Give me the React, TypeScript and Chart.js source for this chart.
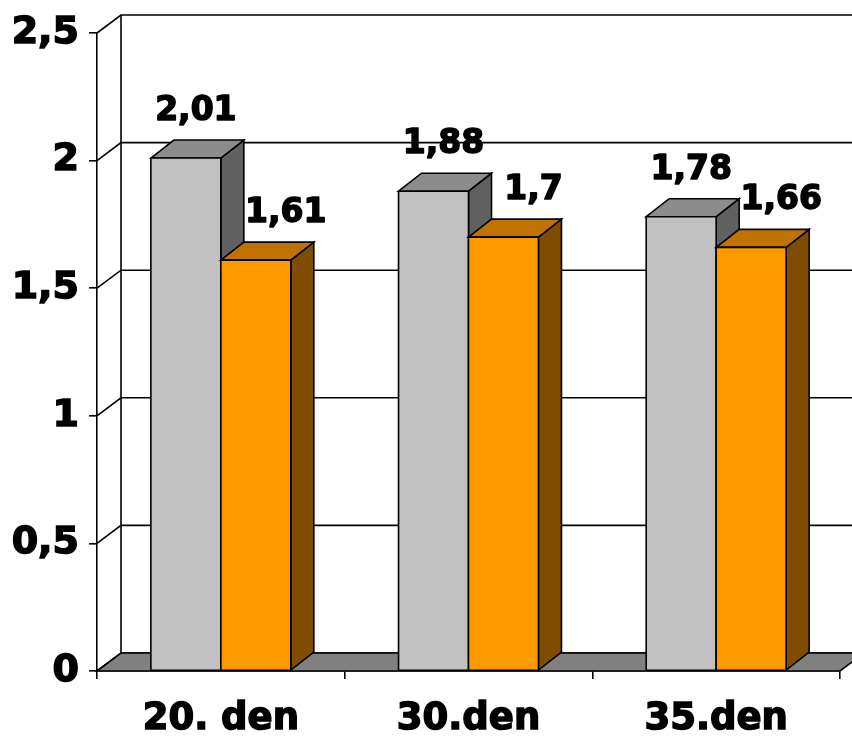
import React, { useEffect, useRef } from "react";
import { Chart, registerables } from "chart.js";

Chart.register(...registerables);

// Data
const categories = ["20. den", "30.den", "35.den"];
const seriesA = [2.01, 1.88, 1.78];
const seriesB = [1.61, 1.7, 1.66];
const yTicks = [0, 0.5, 1, 1.5, 2, 2.5];

// Styling
const FONT = "'DejaVu Sans', 'Liberation Sans', Arial, sans-serif";
const WALL_DX = 24;
const WALL_DY = 18;
const BAR_DX = 23;
const BAR_DY = 18;
const faces = [
  { front: "#c0c0c0", top: "#8c8c8c", side: "#606060", labelShift: 10 },
  { front: "#ff9900", top: "#c07300", side: "#7f4c00", labelShift: 30 },
];

const fmt = (v: number) => String(v).replace(".", ",");

const poly = (ctx: CanvasRenderingContext2D, pts: number[][], fill: string | null) => {
  ctx.beginPath();
  ctx.moveTo(pts[0][0], pts[0][1]);
  for (let i = 1; i < pts.length; i++) ctx.lineTo(pts[i][0], pts[i][1]);
  ctx.closePath();
  if (fill) {
    ctx.fillStyle = fill;
    ctx.fill();
  }
  ctx.stroke();
};

const box3d = {
  id: "box3d",
  beforeDatasetsDraw(chart: any) {
    const { ctx, chartArea, scales } = chart;
    const { left, right, bottom } = chartArea;
    const y = scales.y;
    ctx.save();
    ctx.strokeStyle = "#000";
    ctx.lineWidth = 1.6;
    // back wall grid lines and side wall diagonals
    yTicks.forEach((t) => {
      const py = y.getPixelForValue(t);
      ctx.beginPath();
      ctx.moveTo(left, py);
      ctx.lineTo(left + WALL_DX, py - WALL_DY);
      ctx.lineTo(chart.width + 40, py - WALL_DY);
      ctx.stroke();
    });
    // back wall left edge
    ctx.beginPath();
    ctx.moveTo(left + WALL_DX, y.getPixelForValue(yTicks[yTicks.length - 1]) - WALL_DY);
    ctx.lineTo(left + WALL_DX, bottom - WALL_DY);
    ctx.stroke();
    // floor
    poly(
      ctx,
      [
        [left, bottom],
        [right, bottom],
        [right + WALL_DX, bottom - WALL_DY],
        [left + WALL_DX, bottom - WALL_DY],
      ],
      "#808080"
    );
    ctx.restore();
  },
  beforeDatasetDraw() {
    return false;
  },
  afterDatasetsDraw(chart: any) {
    const { ctx } = chart;
    const metas = chart.data.datasets.map((_: any, i: number) => chart.getDatasetMeta(i));
    ctx.save();
    ctx.strokeStyle = "#000";
    ctx.lineWidth = 1.6;
    ctx.lineJoin = "miter";
    const labels: any[] = [];
    categories.forEach((_, i) => {
      metas.forEach((meta: any, d: number) => {
        const bar = meta.data[i];
        const { x, y, base, width } = bar.getProps(["x", "y", "base", "width"], true);
        const l = x - width / 2;
        const r = x + width / 2;
        const f = faces[d];
        poly(ctx, [[r, y], [r + BAR_DX, y - BAR_DY], [r + BAR_DX, base - BAR_DY], [r, base]], f.side);
        poly(ctx, [[l, y], [l + BAR_DX, y - BAR_DY], [r + BAR_DX, y - BAR_DY], [r, y]], f.top);
        poly(ctx, [[l, y], [r, y], [r, base], [l, base]], f.front);
        labels.push({
          text: fmt(chart.data.datasets[d].data[i]),
          x: x + f.labelShift,
          y: y - BAR_DY - 20,
        });
      });
    });
    ctx.fillStyle = "#000";
    ctx.lineWidth = 1.5;
    ctx.lineJoin = "round";
    ctx.font = `bold 33px ${FONT}`;
    ctx.textAlign = "center";
    ctx.textBaseline = "alphabetic";
    labels.forEach((lb) => {
      ctx.fillText(lb.text, lb.x, lb.y);
      ctx.strokeText(lb.text, lb.x, lb.y);
    });
    ctx.restore();
  },
};

export default function App() {
  const ref = useRef<HTMLCanvasElement | null>(null);

  useEffect(() => {
    if (!ref.current) return;
    const chart = new Chart(ref.current, {
      type: "bar",
      data: {
        labels: categories,
        datasets: [
          { label: "A", data: seriesA, backgroundColor: faces[0].front },
          { label: "B", data: seriesB, backgroundColor: faces[1].front },
        ],
      },
      options: {
        animation: false,
        responsive: true,
        maintainAspectRatio: false,
        layout: { padding: { top: 33, right: 12, left: 0, bottom: 0 } },
        datasets: { bar: { categoryPercentage: 0.565, barPercentage: 1 } },
        plugins: { legend: { display: false }, tooltip: { enabled: false } },
        scales: {
          x: {
            grid: { drawOnChartArea: false, drawTicks: true, tickLength: 8, color: "#000", lineWidth: 1.6, offset: true },
            border: { display: true, color: "#000", width: 1.6 },
            ticks: {
              color: "#000",
              padding: 18,
              font: { family: FONT, weight: "bold", size: 37 },
              maxRotation: 0,
              textStrokeColor: "#000",
              textStrokeWidth: 1.5,
            },
            afterFit: (s: any) => {
              s.height = 67;
            },
          },
          y: {
            min: 0,
            max: 2.5,
            grid: { drawOnChartArea: false, drawTicks: true, tickLength: 8, color: "#000", lineWidth: 1.6 },
            border: { display: true, color: "#000", width: 1.6 },
            ticks: {
              stepSize: 0.5,
              color: "#000",
              padding: 10,
              font: { family: FONT, weight: "bold", size: 38 },
              textStrokeColor: "#000",
              textStrokeWidth: 1.5,
              callback: (v: any) => fmt(Number(v)),
            },
            afterFit: (s: any) => {
              s.width = 97;
            },
          },
        },
      },
      plugins: [box3d],
    });
    return () => chart.destroy();
  }, []);

  return (
    <div style={{ position: "absolute", left: 0, top: 0, width: 852, height: 738, background: "#fff" }}>
      <canvas ref={ref} />
    </div>
  );
}
